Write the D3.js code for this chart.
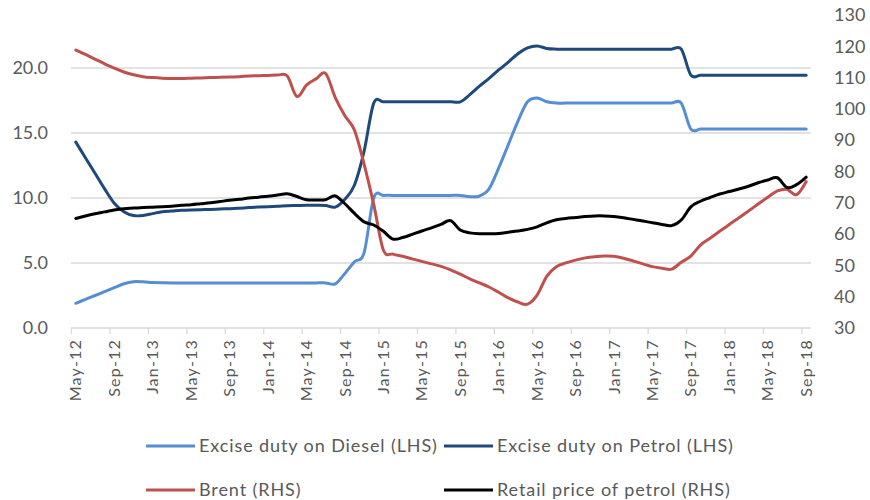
<!DOCTYPE html>
<html><head><meta charset="utf-8">
<script src="https://cdn.jsdelivr.net/npm/d3@7"></script>
<style>
body{margin:0;background:#fff}
text{font-family:Lato, "Open Sans", sans-serif; fill:#595959}
</style>
</head><body>
<svg id="chart" width="870" height="500"></svg>
<script>
// ---- Data (monthly, May-12 .. Sep-18) ----
const tickLabels = ["May-12","Sep-12","Jan-13","May-13","Sep-13","Jan-14","May-14","Sep-14","Jan-15","May-15",
  "Sep-15","Jan-16","May-16","Sep-16","Jan-17","May-17","Sep-17","Jan-18","May-18","Sep-18"];
const months = d3.timeMonth.range(new Date(2012,4,1), new Date(2018,9,1)); // 77 months

// Excise duty on Diesel (LHS)
const diesel = [1.9,2.2,2.5,2.8,3.1,3.4,3.56,3.55,3.5,3.48,3.47,3.47,3.47,3.47,3.47,3.47,3.47,3.47,3.47,3.47,
  3.47,3.47,3.47,3.47,3.47,3.47,3.47,3.4,4.2,5.1,5.8,10.0,10.2,10.2,10.2,10.2,10.2,10.2,10.2,10.2,
  10.2,10.1,10.15,10.7,12.3,14.1,15.9,17.4,17.7,17.4,17.3,17.3,17.3,17.3,17.3,17.3,17.3,17.3,17.3,17.3,
  17.3,17.3,17.3,17.3,15.3,15.3,15.3,15.3,15.3,15.3,15.3,15.3,15.3,15.3,15.3,15.3,15.3];
// Excise duty on Petrol (LHS)
const petrol = [14.3,13.1,11.9,10.7,9.6,8.95,8.65,8.65,8.8,8.95,9.0,9.05,9.08,9.1,9.12,9.15,9.18,9.22,9.26,9.3,
  9.33,9.36,9.4,9.42,9.44,9.44,9.42,9.3,9.9,11.0,13.6,17.3,17.4,17.4,17.4,17.4,17.4,17.4,17.4,17.4,
  17.4,17.95,18.6,19.2,19.85,20.45,21.1,21.55,21.7,21.5,21.45,21.45,21.45,21.45,21.45,21.45,21.45,21.45,21.45,21.45,
  21.45,21.45,21.45,21.45,19.45,19.45,19.45,19.45,19.45,19.45,19.45,19.45,19.45,19.45,19.45,19.45,19.45];
// Brent (RHS)
const brent = [118.8,117.4,115.9,114.4,113.0,111.8,110.9,110.3,110.0,109.8,109.7,109.7,109.8,109.9,110.0,110.1,110.2,110.3,110.5,110.6,
  110.7,110.8,110.5,104.0,107.6,109.6,111.3,103.6,97.8,93.2,82.3,69.5,54.9,53.6,52.9,52.1,51.3,50.5,49.7,48.6,
  47.2,45.7,44.4,43.1,41.4,39.6,38.3,37.6,40.5,46.5,49.6,50.8,51.7,52.4,52.8,53.0,52.9,52.3,51.4,50.5,
  49.6,49.1,48.8,51.0,53.0,56.5,58.7,60.9,63.1,65.2,67.4,69.6,71.8,73.8,74.3,72.6,76.8];
// Retail price of petrol (RHS)
const retail = [65.0,65.8,66.5,67.1,67.7,68.1,68.3,68.5,68.6,68.7,68.9,69.2,69.4,69.7,70.0,70.4,70.8,71.1,71.5,71.8,
  72.1,72.5,72.9,72.0,71.0,70.9,71.0,72.2,69.7,66.6,63.9,62.9,60.9,58.4,58.9,59.9,61.0,62.0,63.1,64.3,
  61.3,60.4,60.1,60.1,60.2,60.6,61.0,61.5,62.3,63.6,64.6,65.0,65.3,65.6,65.8,65.8,65.6,65.2,64.7,64.2,
  63.6,63.1,62.7,64.5,68.7,70.5,71.7,72.8,73.6,74.4,75.3,76.4,77.3,78.0,74.9,75.8,78.2];

const leftTicks = [0,5,10,15,20];
const rightTicks = [30,40,50,60,70,80,90,100,110,120,130];

const series = [
  {name:"Excise duty on Diesel (LHS)", values:diesel, axis:"L", color:"#558ED5"},
  {name:"Excise duty on Petrol (LHS)", values:petrol, axis:"L", color:"#1F497D"},
  {name:"Brent (RHS)", values:brent, axis:"R", color:"#C0504D"},
  {name:"Retail price of petrol (RHS)", values:retail, axis:"R", color:"#000000"}
];

// ---- Layout ----
const svg = d3.select("#chart");
const plotL = 71, plotR = 811, plotT = 15, plotB = 328;
const x = d3.scaleLinear().domain([0, months.length]).range([plotL, plotR]);
const yL = d3.scaleLinear().domain([0, 24]).range([plotB, plotT + 1]);
const yR = d3.scaleLinear().domain([30, 130]).range([plotB, plotT]);

// gridlines
svg.append("g").selectAll("line").data(leftTicks.slice(1)).join("line")
  .attr("x1", plotL).attr("x2", plotR)
  .attr("y1", d => yL(d)).attr("y2", d => yL(d))
  .attr("stroke", "#d9d9d9").attr("stroke-width", 1.3);

// bottom axis
const tickIdx = tickLabels.map((_, i) => i * 4);
const xAxis = d3.axisBottom(x).tickValues(tickIdx).tickSize(6).tickFormat("");
const gx = svg.append("g").attr("transform", `translate(0,${plotB})`).call(xAxis);
gx.select(".domain").attr("stroke", "#d9d9d9").attr("stroke-width", 1.3).attr("d", `M${plotL},0H${plotR}`);
gx.selectAll(".tick line").attr("stroke", "#d9d9d9").attr("stroke-width", 1.3);

svg.append("g").selectAll("text").data(tickLabels).join("text")
  .attr("transform", (d, i) => `translate(${x(tickIdx[i] + 0.5)},${plotB + 11}) rotate(-90)`)
  .attr("text-anchor", "end").attr("dy", "0.35em")
  .style("font-size", "16px").style("letter-spacing", "1.2px").text(d => d);

// left axis
const gl = svg.append("g").attr("transform", `translate(52,0)`)
  .call(d3.axisLeft(yL).tickValues(leftTicks).tickSize(0).tickPadding(4).tickFormat(d3.format(".1f")));
gl.select(".domain").remove();
gl.selectAll("text").style("font-size", "18px").attr("fill", "#595959");

// right axis
const gr = svg.append("g").attr("transform", `translate(830,0)`)
  .call(d3.axisRight(yR).tickValues(rightTicks).tickSize(0).tickPadding(4));
gr.select(".domain").remove();
gr.selectAll("text").style("font-size", "18px").attr("fill", "#595959");

// lines
const curve = d3.curveCardinal.tension(0);
series.forEach(s => {
  const ys = s.axis === "L" ? yL : yR;
  const line = d3.line().x((d, i) => x(i + 0.5)).y(d => ys(d)).curve(curve);
  svg.append("path").datum(s.values).attr("d", line)
    .attr("fill", "none").attr("stroke", s.color).attr("stroke-width", 3)
    .attr("stroke-linejoin", "round").attr("stroke-linecap", "round");
});

// legend
const legPos = [[146,446],[444,446],[146,490],[444,490]];
const leg = svg.append("g").selectAll("g").data(series).join("g")
  .attr("transform", (d, i) => `translate(${legPos[i][0]},${legPos[i][1]})`);
leg.append("line").attr("x1", 0).attr("x2", 49).attr("stroke", d => d.color).attr("stroke-width", 3);
leg.append("text").attr("x", 53).attr("dy", "0.35em").style("font-size", "18px")
  .style("letter-spacing", "0.9px").text(d => d.name);
</script>
</body></html>
